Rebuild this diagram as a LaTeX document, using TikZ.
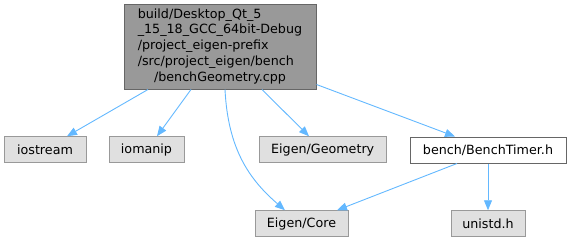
\documentclass[tikz,border=0pt]{standalone}
\usepackage{fontspec}
\setmainfont{DejaVu Sans}
\usetikzlibrary{arrows.meta}
\definecolor{edgeblue}{HTML}{63B8FF}
\definecolor{boxfill}{HTML}{E0E0E0}
\definecolor{boxline}{HTML}{999999}
\definecolor{rootfill}{HTML}{999999}
\definecolor{darkline}{HTML}{666666}
\begin{document}
\begin{tikzpicture}[x=1pt,y=-1pt,
  every node/.style={font=\fontsize{12.7}{15.8}\selectfont, inner sep=0pt, text=black},
  filebox/.style={draw=boxline, fill=boxfill, line width=1pt, minimum height=25.5pt},
  rootbox/.style={draw=darkline, fill=rootfill, line width=1pt, minimum width=192pt, minimum height=85pt},
  localbox/.style={draw=darkline, fill=white, line width=1pt, minimum height=26pt},
  dep/.style={draw=edgeblue, line width=0.9pt, -{Triangle[length=10pt,width=8pt]}}]
\useasboundingbox (0,0) rectangle (571,241);

% source file and its includes
\node[rootbox] (root) at (220,46.5) {\begin{tabular}{@{}l@{}}
build/Desktop\_Qt\_5\\
\_15\_18\_GCC\_64bit-Debug\\
/project\_eigen-prefix\\
/src/project\_eigen/bench\\
\multicolumn{1}{@{}c@{}}{/benchGeometry.cpp}
\end{tabular}};
\node[filebox, minimum width=82pt] (iostream) at (45,149.5) {iostream};
\node[filebox, minimum width=75pt] (iomanip) at (146.5,149.5) {iomanip};
\node[filebox, minimum width=127pt] (geometry) at (322.7,149.5) {Eigen/Geometry};
\node[localbox, minimum width=156pt] (bench) at (488,150) {bench/BenchTimer.h};
\node[filebox, minimum width=93pt] (core) at (301.5,223.5) {Eigen/Core};
\node[filebox, minimum width=74pt] (unistd) at (488,223.5) {unistd.h};

% include edges
\draw[dep] ([xshift=-72pt]root.south) -- ([xshift=22pt]iostream.north);
\draw[dep] ([xshift=-29pt]root.south) -- ([xshift=10.5pt]iomanip.north);
\draw[dep] ([xshift=5pt]root.south) .. controls (228,150) and (250,180) .. ([xshift=-16.5pt]core.north);
\draw[dep] ([xshift=42pt]root.south) -- ([xshift=-13.7pt]geometry.north);
\draw[dep] ([yshift=5pt]root.south east) -- ([xshift=-33pt]bench.north);
\draw[dep] ([xshift=-31pt]bench.south) -- ([xshift=35.5pt]core.north);
\draw[dep] (bench.south) -- (unistd.north);
\end{tikzpicture}
\end{document}
